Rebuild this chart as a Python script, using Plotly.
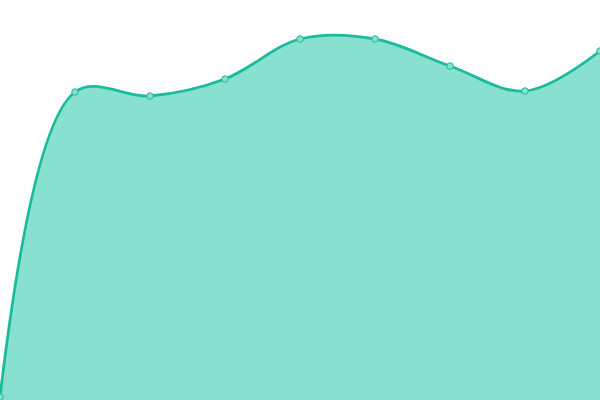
import plotly.graph_objects as go

x_vals = [0, 1, 2, 3, 4, 5, 6, 7, 8]
y_vals = [3, 308, 304, 321, 361, 361, 334, 309, 349]

fig = go.Figure()
fig.add_trace(go.Scatter(
    x=x_vals, y=y_vals,
    mode="lines+markers",
    line=dict(shape="spline", smoothing=1, color="#1abc9c", width=2.8),
    fill="tozeroy",
    fillcolor="#88e0d0",
    marker=dict(size=6.5, color="#88e0d0", line=dict(color="#1abc9c", width=1)),
    cliponaxis=False,
    hoverinfo="skip",
))
fig.update_layout(
    width=600, height=400,
    margin=dict(l=0, r=0, t=0, b=0),
    paper_bgcolor="white", plot_bgcolor="white",
    showlegend=False,
    xaxis=dict(range=[0, 8], visible=False, fixedrange=True),
    yaxis=dict(range=[0, 400], visible=False, fixedrange=True),
)
fig.write_html(
    "out.html",
    config={"displayModeBar": False},
    post_script="document.body.style.margin='0';document.body.style.padding='0';document.body.style.overflow='hidden';",
)
